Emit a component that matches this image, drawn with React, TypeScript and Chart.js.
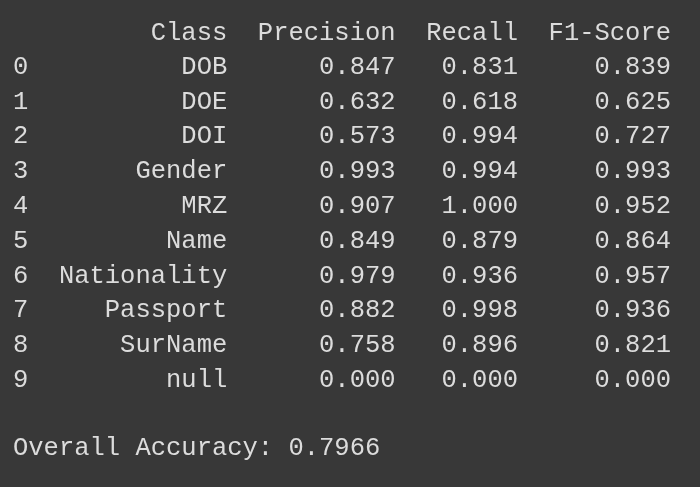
import { useEffect, useRef } from "react"
import { Chart, registerables } from "chart.js"

Chart.register(...registerables)

const headers = ["Class", "Precision", "Recall", "F1-Score"]
const classes = ["DOB", "DOE", "DOI", "Gender", "MRZ", "Name", "Nationality", "Passport", "SurName", "null"]
const precision = [0.847, 0.632, 0.573, 0.993, 0.907, 0.849, 0.979, 0.882, 0.758, 0.0]
const recall = [0.831, 0.618, 0.994, 0.994, 1.0, 0.879, 0.936, 0.998, 0.896, 0.0]
const f1 = [0.839, 0.625, 0.727, 0.993, 0.952, 0.864, 0.957, 0.936, 0.821, 0.0]
const accuracy = 0.7966

// right edges of each column, in characters
const colEnds = [14, 25, 33, 43]

const tablePlugin = {
  id: "textTable",
  afterDraw(chart: Chart) {
    const ctx = chart.ctx
    ctx.save()
    ctx.font = "25.5px 'Liberation Mono', 'DejaVu Sans Mono', monospace"
    ctx.fillStyle = "#dcdcdc"
    ctx.textBaseline = "middle"
    const left = 13
    const cw = ctx.measureText("0").width
    const cellAt = (text: string, col: number, y: number) => {
      ctx.textAlign = "right"
      ctx.fillText(text, left + colEnds[col] * cw, y)
    }
    headers.forEach((h, i) => cellAt(h, i, 33))
    classes.forEach((c, i) => {
      const y = 67 + i * 34.8
      ctx.textAlign = "left"
      ctx.fillText(String(i), left, y)
      cellAt(c, 0, y)
      cellAt(precision[i].toFixed(3), 1, y)
      cellAt(recall[i].toFixed(3), 2, y)
      cellAt(f1[i].toFixed(3), 3, y)
    })
    ctx.textAlign = "left"
    ctx.fillText("Overall Accuracy: " + accuracy.toFixed(4), left, 448)
    ctx.restore()
  },
}

export default function App() {
  const canvasRef = useRef<HTMLCanvasElement>(null)

  useEffect(() => {
    document.body.style.margin = "0"
    if (!canvasRef.current) return
    const chart = new Chart(canvasRef.current, {
      type: "bar",
      data: { labels: classes, datasets: [{ data: [], label: "" }] },
      options: {
        animation: false,
        responsive: true,
        maintainAspectRatio: false,
        events: [],
        plugins: { legend: { display: false }, tooltip: { enabled: false } },
        scales: { x: { display: false }, y: { display: false } },
      },
      plugins: [tablePlugin],
    })
    return () => chart.destroy()
  }, [])

  return (
    <div style={{ width: 700, height: 487, background: "#383838" }}>
      <canvas ref={canvasRef} />
    </div>
  )
}
